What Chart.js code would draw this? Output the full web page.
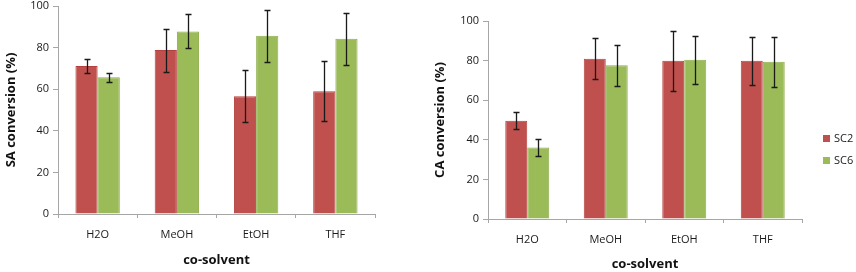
<!DOCTYPE html>
<html>
<head>
<meta charset="utf-8">
<script src="https://cdn.jsdelivr.net/npm/chart.js@4.4.1/dist/chart.umd.min.js"></script>
<style>
  html, body { margin: 0; padding: 0; background: #fff; }
  #wrap { position: relative; width: 856px; height: 272px; overflow: hidden; font-family: "Open Sans", sans-serif; }
  .box { position: absolute; top: 0; height: 272px; }
  #boxSA { left: 0; width: 430px; }
  #boxCA { left: 430px; width: 426px; }
  .legend { position: absolute; left: 823px; font-size: 11px; color: #1a1a1a; }
  .legend div { position: absolute; left: 0; white-space: nowrap; line-height: 14px; }
  .legend span.sw { display: inline-block; width: 7px; height: 7px; margin-right: 4px; vertical-align: 0px; }
</style>
</head>
<body>
<div id="wrap">
  <div class="box" id="boxSA"><canvas id="chartSA"></canvas></div>
  <div class="box" id="boxCA"><canvas id="chartCA"></canvas></div>
  <div class="legend" id="legend"></div>
</div>
<script>
// categories + series
const categories = ['H2O', 'MeOH', 'EtOH', 'THF'];
const seriesNames = ['SC2', 'SC6'];
const seriesColors = ['#C0504D', '#9BBB59'];
const seriesBorders = ['#B5413E', '#8DAE4B'];

// SA conversion (%) - left panel
const saSC2 = [71.2, 78.8, 56.6, 59.0];
const saSC2Err = [3.3, 10.3, 12.5, 14.5];
const saSC6 = [65.7, 87.8, 85.7, 84.3];
const saSC6Err = [2.2, 8.2, 12.6, 12.5];

// CA conversion (%) - right panel
const caSC2 = [49.6, 80.9, 79.9, 79.9];
const caSC2Err = [4.2, 10.4, 15.2, 12.2];
const caSC6 = [36.1, 77.6, 80.4, 79.4];
const caSC6Err = [4.3, 10.3, 12.2, 12.7];

const yTicks = [0, 20, 40, 60, 80, 100];

const axisGray = '#a6a6a6';
const textDark = '#1a1a1a';
const fontFam = '"Open Sans", sans-serif';

// draws the error bars from each dataset's err array
const errorBars = {
    id: 'errorBars',
    afterDatasetsDraw(chart) {
        const ctx = chart.ctx;
        const yScale = chart.scales.y;
        ctx.save();
        ctx.strokeStyle = '#1a1a1a';
        ctx.lineWidth = 1.3;
        chart.data.datasets.forEach((ds, di) => {
            const meta = chart.getDatasetMeta(di);
            meta.data.forEach((bar, i) => {
                const v = ds.data[i], e = ds.err[i];
                const yT = Math.round(yScale.getPixelForValue(v + e)) + 0.5;
                const yB = Math.round(yScale.getPixelForValue(v - e)) + 0.5;
                const x = Math.round(bar.x) + 0.5;
                ctx.beginPath();
                ctx.moveTo(x, yT); ctx.lineTo(x, yB);
                ctx.moveTo(x - 3, yT); ctx.lineTo(x + 3, yT);
                ctx.moveTo(x - 3, yB); ctx.lineTo(x + 3, yB);
                ctx.stroke();
            });
        });
        ctx.restore();
    }
};

function buildChart(id, yTitle, s1, e1, s2, e2, geo) {
    const ctx = document.getElementById(id).getContext('2d');
    return new Chart(ctx, {
        type: 'bar',
        data: {
            labels: categories,
            datasets: [
                { label: seriesNames[0], data: s1, err: e1, backgroundColor: seriesColors[0], borderColor: seriesBorders[0], borderWidth: 1 },
                { label: seriesNames[1], data: s2, err: e2, backgroundColor: seriesColors[1], borderColor: seriesBorders[1], borderWidth: 1 }
            ]
        },
        options: {
            responsive: true,
            maintainAspectRatio: false,
            animation: false,
            layout: { padding: { top: geo.top, right: geo.right, left: 0, bottom: 0 } },
            datasets: { bar: { categoryPercentage: 0.56, barPercentage: 1.0 } },
            plugins: { legend: { display: false }, tooltip: { enabled: false } },
            scales: {
                x: {
                    grid: { offset: true, drawOnChartArea: false, drawTicks: true, tickLength: 4, color: axisGray },
                    border: { color: axisGray, width: 1 },
                    ticks: { color: textDark, font: { family: fontFam, size: 11 }, padding: geo.xPad, maxRotation: 0 },
                    title: { display: true, text: 'co-solvent', color: '#111', font: { family: fontFam, size: 13, weight: 'bold' }, padding: { top: 0, bottom: geo.xTitlePad } },
                    afterFit: s => { s.height = geo.xHeight; s.paddingLeft = 0; s.paddingRight = 0; }
                },
                y: {
                    min: 0, max: 100,
                    afterBuildTicks: s => { s.ticks = yTicks.map(v => ({ value: v })); },
                    grid: { drawOnChartArea: false, drawTicks: true, tickLength: 5, color: axisGray },
                    border: { color: axisGray, width: 1 },
                    ticks: { color: textDark, font: { family: fontFam, size: 11 }, padding: 4 },
                    title: { display: true, text: yTitle, color: '#111', font: { family: fontFam, size: 13, weight: 'bold' }, padding: { top: geo.yTitlePad, bottom: 0 } },
                    afterFit: s => { s.width = 58; s.paddingTop = 0; s.paddingBottom = 0; }
                }
            }
        },
        plugins: [errorBars]
    });
}

buildChart('chartSA', 'SA conversion (%)', saSC2, saSC2Err, saSC6, saSC6Err,
    { top: 6, right: 55, xHeight: 58, xPad: 10, xTitlePad: 4, yTitlePad: 3 });
buildChart('chartCA', 'CA conversion (%)', caSC2, caSC2Err, caSC6, caSC6Err,
    { top: 21, right: 54, xHeight: 53, xPad: 10, xTitlePad: 0, yTitlePad: 2 });

// html legend for the right panel
const legendEl = document.getElementById('legend');
legendEl.innerHTML = seriesNames.map((n, i) =>
    `<div style="top:${131 + i * 22}px"><span class="sw" style="background:${seriesColors[i]}"></span>${n}</div>`
).join('');
</script>
</body>
</html>
